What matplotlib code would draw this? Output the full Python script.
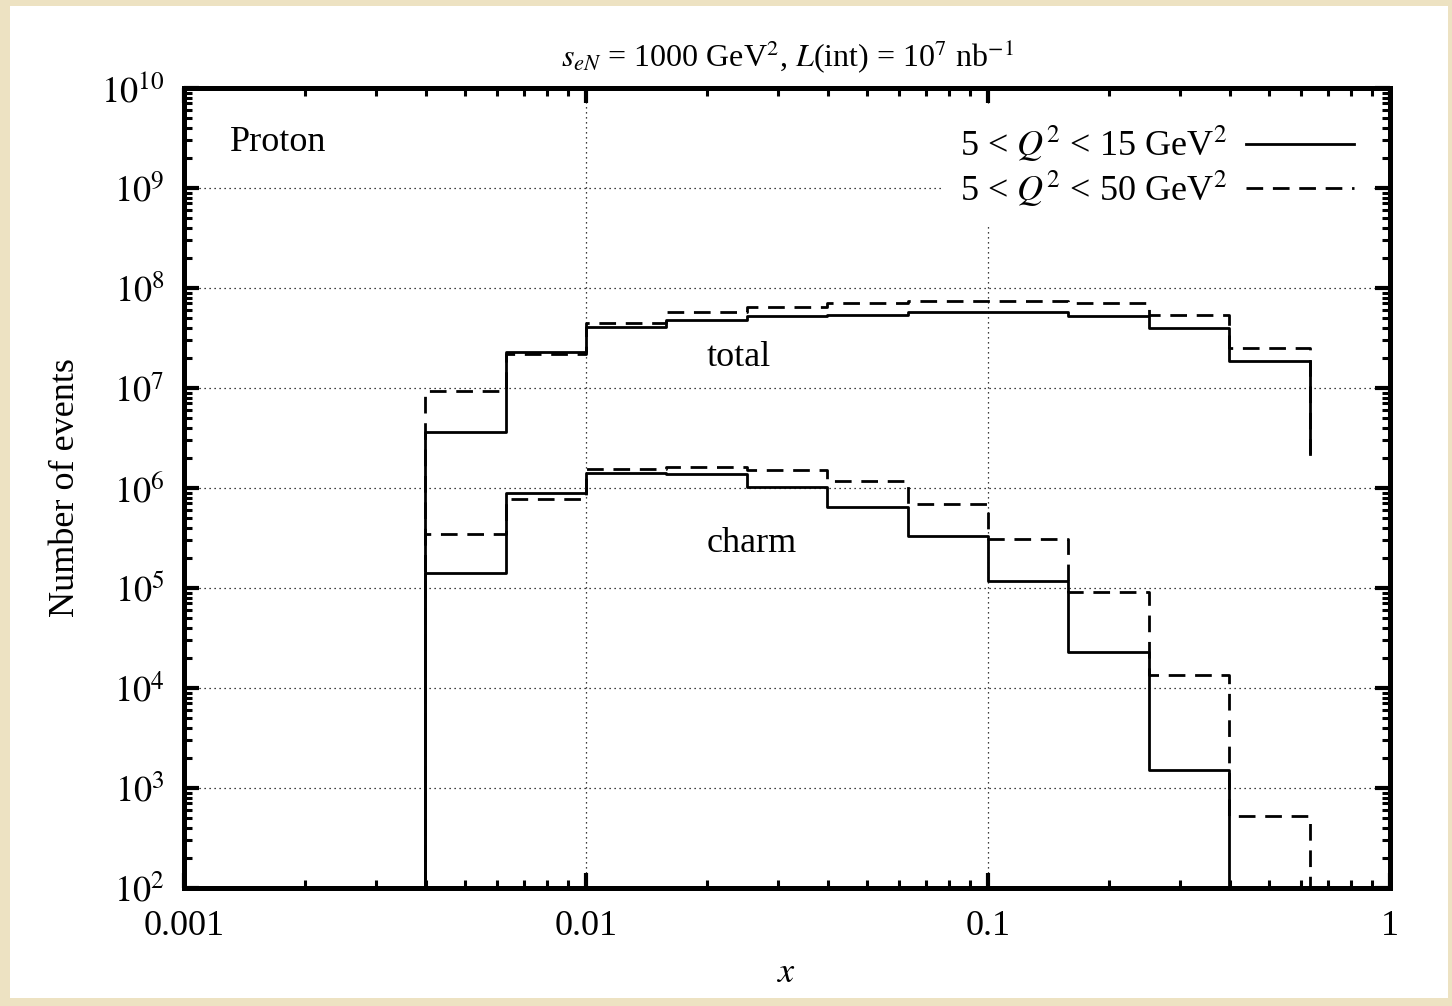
import numpy as np
import matplotlib
matplotlib.use("Agg")
from matplotlib import pyplot as plt
from matplotlib.patches import Rectangle
from matplotlib.ticker import LogLocator, FixedLocator, FuncFormatter, NullFormatter

plt.rcParams['font.family'] = ['Liberation Serif', 'DejaVu Serif']
plt.rcParams['mathtext.fontset'] = 'stix'

# Bin edges in x: 10^-2.4 ... 10^-0.2, steps of 0.2 in log10
edges = 10 ** np.arange(-2.4, -0.19, 0.2)

# Total events per bin
total_q15 = [3.6e6, 2.3e7, 4.1e7, 4.8e7, 5.2e7, 5.4e7, 5.7e7, 5.7e7, 5.2e7, 4.0e7, 1.86e7]
total_q50 = [9.3e6, 2.2e7, 4.5e7, 5.7e7, 6.4e7, 7.1e7, 7.4e7, 7.4e7, 7.0e7, 5.4e7, 2.5e7]
total_end = 2.2e6

# Charm events per bin (Q2 < 15 stops after the 10th bin)
charm_q15 = [1.42e5, 8.9e5, 1.42e6, 1.38e6, 1.03e6, 6.5e5, 3.3e5, 1.17e5, 2.3e4, 1.5e3]
charm_q50 = [3.5e5, 7.7e5, 1.54e6, 1.62e6, 1.51e6, 1.17e6, 6.9e5, 3.1e5, 9.1e4, 1.35e4, 5.2e2]

x_ticks = [1e-3, 1e-2, 1e-1, 1]
y_ticks = [1e2, 1e3, 1e4, 1e5, 1e6, 1e7, 1e8, 1e9, 1e10]
ymin, ymax = 1e2, 1e10


# Build the outline of a histogram: rises from `start` at the first edge,
# ends with a drop to `end` at the last used edge.
def hist_outline(vals, start, end):
    e = edges[:len(vals) + 1]
    xs, ys = [e[0]], [start]
    for i, v in enumerate(vals):
        xs += [e[i], e[i + 1]]
        ys += [v, v]
    xs.append(e[len(vals)])
    ys.append(end)
    return xs, ys


fig = plt.figure(figsize=(14.52, 10.06), dpi=100)
fig.patch.set_facecolor('#ede2c2')
fig.patches.append(Rectangle((10 / 1452, 8 / 1006), 1438 / 1452, 992 / 1006,
                             transform=fig.transFigure, facecolor='white',
                             edgecolor='none', zorder=-10))

ax = fig.add_axes([184 / 1452, 118 / 1006, 1206 / 1452, 800 / 1006])
ax.set_zorder(5)
ax.set_xscale('log')
ax.set_yscale('log')
ax.set_xlim(1e-3, 1)
ax.set_ylim(ymin, ymax)

dash = (6, 3.5)
lw = 2.0

xs, ys = hist_outline(total_q50, ymin, total_end)
ax.plot(xs, ys, color='black', lw=lw, dashes=dash)
xs, ys = hist_outline(charm_q50, ymin, ymin)
ax.plot(xs, ys, color='black', lw=lw, dashes=dash)
xs, ys = hist_outline(total_q15, ymin, total_end)
l1, = ax.plot(xs, ys, color='black', lw=lw)
xs, ys = hist_outline(charm_q15, ymin, ymin)
ax.plot(xs, ys, color='black', lw=lw)

l2, = ax.plot([], [], color='black', lw=lw, dashes=dash)

# Grid and ticks
ax.grid(True, which='major', color='black', linestyle=(0, (1, 3)), linewidth=0.9)
ax.xaxis.set_major_locator(FixedLocator(x_ticks))
ax.xaxis.set_major_formatter(FuncFormatter(lambda v, p: '%g' % v))
ax.xaxis.set_minor_locator(LogLocator(base=10, subs=np.arange(2, 10), numticks=20))
ax.xaxis.set_minor_formatter(NullFormatter())
ax.yaxis.set_major_locator(FixedLocator(y_ticks))
ax.yaxis.set_major_formatter(FuncFormatter(lambda v, p: r'$10^{%d}$' % round(np.log10(v))))
ax.yaxis.set_minor_locator(LogLocator(base=10, subs=np.arange(2, 10), numticks=20))
ax.yaxis.set_minor_formatter(NullFormatter())

ax.tick_params(which='both', direction='in', top=True, right=True, colors='black')
ax.tick_params(which='major', length=11, width=3, labelsize=26)
ax.tick_params(which='minor', length=5.5, width=2.2)
ax.tick_params(axis='x', which='major', pad=16)
ax.tick_params(axis='y', which='major', pad=14)
for s in ax.spines.values():
    s.set_linewidth(3.6)

ax.set_title(r'$s_{eN}$ = 1000 GeV$^2$, $L$(int) = 10$^7$ nb$^{\mathrm{-}1}$', fontsize=23, pad=16)
ax.set_xlabel(r'$x$', fontsize=26, labelpad=10)
ax.set_ylabel('Number of events', fontsize=26, labelpad=14)

ax.text(0.038, 0.932, 'Proton', transform=ax.transAxes, fontsize=26, va='center', ha='left')
ax.text(0.433, 0.6625, 'total', transform=ax.transAxes, fontsize=26, va='center', ha='left')
ax.text(0.433, 0.431, 'charm', transform=ax.transAxes, fontsize=26, va='center', ha='left')

leg = ax.legend([l1, l2], [r'5 < $Q^2$ < 15 GeV$^2$', r'5 < $Q^2$ < 50 GeV$^2$'],
                loc='upper right', fontsize=26, markerfirst=False, frameon=True,
                handlelength=3.0, handletextpad=0.5, borderaxespad=0.5,
                borderpad=0.5, labelspacing=0.12, fancybox=False)
leg.get_frame().set_facecolor('white')
leg.get_frame().set_edgecolor('none')
leg.get_frame().set_alpha(1)

fig.savefig('out.png', dpi=100, facecolor=fig.get_facecolor())
